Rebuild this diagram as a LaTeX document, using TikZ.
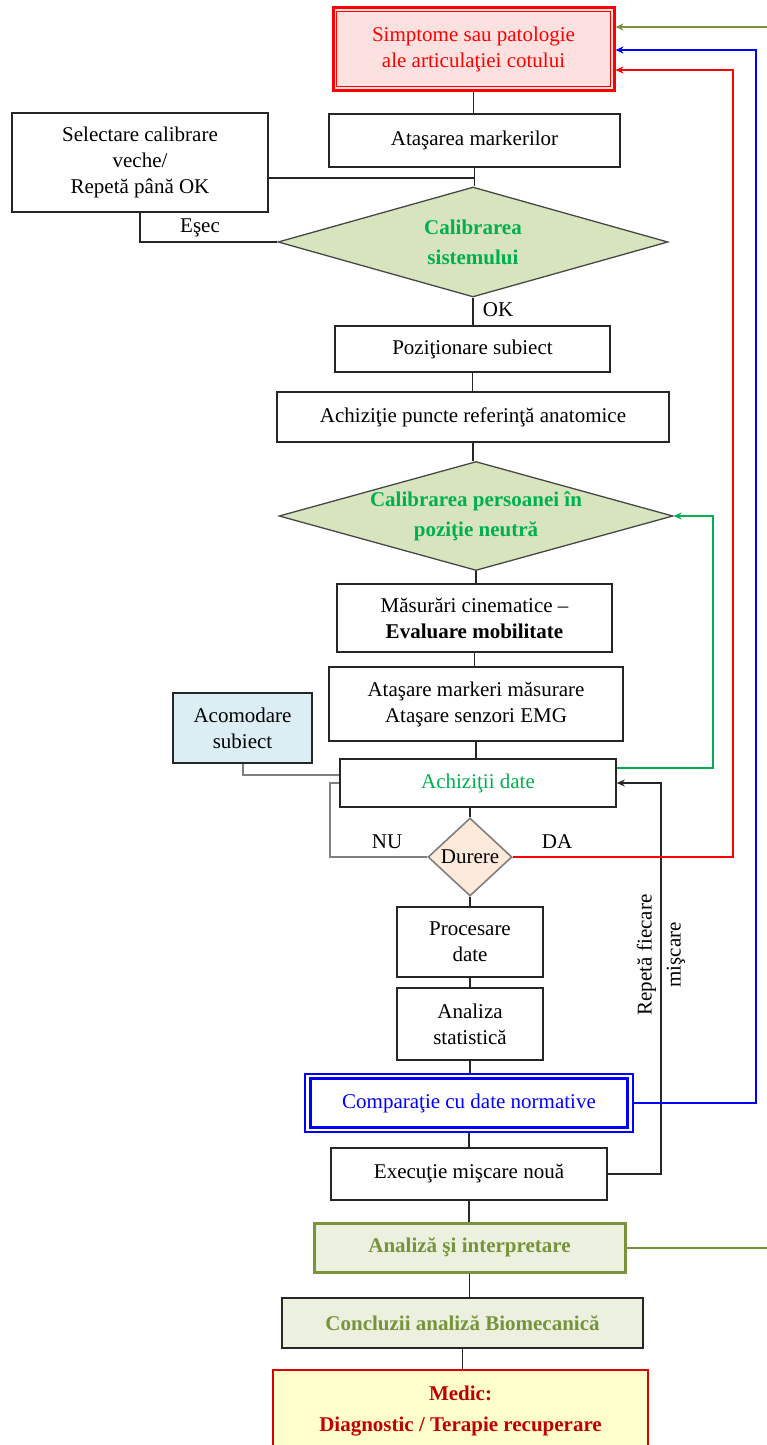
\documentclass[tikz,border=0pt]{standalone}
\usepackage{fontspec}
\setmainfont{Liberation Serif}
\usetikzlibrary{shapes.geometric,arrows.meta,calc}
\definecolor{pinkfill}{HTML}{FDE0E0}
\definecolor{dgreen}{HTML}{D7E4BD}
\definecolor{tgreen}{HTML}{00B050}
\definecolor{lblue}{HTML}{DAEEF3}
\definecolor{lorange}{HTML}{FDEADA}
\definecolor{lolive}{HTML}{EBF1DE}
\definecolor{olive}{HTML}{77933C}
\definecolor{lyellow}{HTML}{FFFFCC}
\definecolor{dred}{HTML}{C00000}
\definecolor{bordergray}{HTML}{262626}
\definecolor{midgray}{HTML}{7F7F7F}
\begin{document}
\begin{tikzpicture}[x=1pt,y=-1pt,
  every node/.style={font=\fontsize{21}{26}\selectfont, inner sep=0pt, align=center},
  box/.style={draw=bordergray, line width=1.6pt, fill=white, rectangle},
  dia/.style={diamond, draw=bordergray!85, line width=1.3pt, fill=dgreen, text=tgreen, font=\fontsize{21}{30}\selectfont\bfseries},
  conn/.style={draw=bordergray, line width=1.3pt},
  grayconn/.style={draw=midgray, line width=2pt},
  arr/.style={line width=1.6pt, -{Stealth[length=8pt,width=7pt]}}
]
\useasboundingbox (0,0) rectangle (767,1445);
\clip (0,0) rectangle (767,1445);

% nodes
\node[box, line width=3pt, draw=red, fill=pinkfill, text=red, minimum width=281pt, minimum height=82pt] (simp) at (473.5,49) {Simptome sau patologie\\ale articulaţiei cotului};
\draw[red, line width=1.5pt] ([shift={(5pt,-5pt)}]simp.north west) rectangle ([shift={(-5pt,5pt)}]simp.south east);

\node[box, minimum width=291pt, minimum height=53pt] (ata) at (474.5,140.5) {Ataşarea markerilor};
\node[box, minimum width=256pt, minimum height=99pt] (sel) at (140,162.5) {Selectare calibrare\\veche/\\Repetă până OK};
\node[dia, minimum width=390pt, minimum height=110pt, aspect=3.5] (cal1) at (473,242) {Calibrarea\\sistemului};
\node[box, minimum width=275pt, minimum height=46pt] (poz) at (472.5,349) {Poziţionare subiect};
\node[box, minimum width=392pt, minimum height=50pt] (ach) at (473,417) {Achiziţie puncte referinţă anatomice};
\node[dia, minimum width=394pt, minimum height=109pt, aspect=3.6] (cal2) at (476,516) {Calibrarea persoanei în\\poziţie neutră};
\node[box, minimum width=275pt, minimum height=68pt] (mas) at (474.5,618) {Măsurări cinematice –\\\textbf{Evaluare mobilitate}};
\node[box, minimum width=294pt, minimum height=74pt] (atm) at (476,704) {Ataşare markeri măsurare\\Ataşare senzori EMG};
\node[box, minimum width=276pt, minimum height=48pt, text=tgreen] (acd) at (478,783) {Achiziţii date};
\node[box, fill=lblue, minimum width=139pt, minimum height=70pt] (aco) at (242.5,728) {Acomodare\\subiect};
\node[diamond, draw=midgray, line width=1.6pt, fill=lorange, minimum width=84pt, minimum height=78pt, aspect=1.08] (dur) at (470,857) {Durere};
\node[box, minimum width=146pt, minimum height=70pt] (pro) at (470,942) {Procesare\\date};
\node[box, minimum width=146pt, minimum height=72pt] (ana) at (470,1024) {Analiza\\statistică};
\node[box, draw=blue, line width=1.2pt, text=blue, minimum width=328pt, minimum height=58pt] (cmp) at (469,1103) {Comparaţie cu date normative};
\draw[blue, line width=3pt] ([shift={(6pt,-5.5pt)}]cmp.north west) rectangle ([shift={(-6pt,5.5pt)}]cmp.south east);
\node[box, minimum width=276pt, minimum height=52pt] (exe) at (469,1174) {Execuţie mişcare nouă};
\node[box, draw=olive, line width=3pt, fill=lolive, text=olive, font=\fontsize{21}{26}\selectfont\bfseries, minimum width=311pt, minimum height=49pt] (ai) at (469.5,1247.5) {Analiză şi interpretare};
\node[box, fill=lolive, text=olive, font=\fontsize{21}{26}\selectfont\bfseries, minimum width=361pt, minimum height=50pt] (con) at (462.5,1323) {Concluzii analiză Biomecanică};
\node[box, draw=red!85!black, line width=1.6pt, fill=lyellow, text=dred, font=\fontsize{21}{31}\selectfont\bfseries, minimum width=375pt, minimum height=82pt] (med) at (460.5,1411) {Medic:\\Diagnostic / Terapie recuperare};

% labels
\node (esec) at (200,228) {Eşec};
\node (ok) at (498,310) {OK};
\node (nu) at (387,842) {NU};
\node (da) at (557,842) {DA};
\node[rotate=90, font=\fontsize{21}{29}\selectfont] (rep) at (661,955) {Repetă fiecare\\mişcare};

% helper coordinates
\coordinate (j1) at (474,178);
\coordinate (g1) at (713,516);
\coordinate (r1) at (661,783);
\coordinate (r2) at (733,70);
\coordinate (b1) at (756,50);
\coordinate (o1) at (790,27);
\coordinate (n1) at (330,783);

% vertical connectors
\draw[conn] (simp.south) -- (simp.south |- ata.north);
\draw[conn] (ata.south) -- (ata.south |- cal1.north);
\draw[conn] (sel.east |- j1) -- (j1);
\draw[conn] (sel.south) |- (cal1.west);
\draw[conn] (cal1.south) -- (cal1.south |- poz.north);
\draw[conn] (poz.south) -- (poz.south |- ach.north);
\draw[conn] (ach.south) -- (ach.south |- cal2.north);
\draw[conn] (cal2.south) -- (cal2.south |- mas.north);
\draw[conn] (mas.south) -- (mas.south |- atm.north);
\draw[conn] (atm.south) -- (atm.south |- acd.north);
\draw[conn] (dur.north |- acd.south) -- (dur.north);
\draw[conn] (dur.south) -- (dur.south |- pro.north);
\draw[conn] (pro.south) -- (pro.south |- ana.north);
\draw[conn] (ana.south) -- (ana.south |- cmp.north);
\draw[conn] (cmp.south) -- (cmp.south |- exe.north);
\draw[conn] (exe.south) -- (exe.south |- ai.north);
\draw[conn] (ai.south) -- (ai.south |- con.north);
\draw[conn] (con.south) -- (con.south |- med.north);

% gray side paths
\draw[grayconn] (aco.south) |- ([yshift=8pt]acd.west);
\draw[grayconn] (dur.west) -| (n1) -- (acd.west);

% feedback loops
\draw[arr, draw=tgreen] ([yshift=15pt]acd.east) -| (g1) -- (cal2.east);
\draw[arr, draw=bordergray] (exe.east) -| (r1) -- (acd.east);
\draw[arr, draw=red] (dur.east) -| (r2) -- ([yshift=-21pt]simp.east);
\draw[arr, draw=blue] (cmp.east) -| (b1) -- ([yshift=-1pt]simp.east);
\draw[arr, draw=olive, line width=2pt] (ai.east) -| (o1) -- ([yshift=22pt]simp.east);
\end{tikzpicture}
\end{document}
